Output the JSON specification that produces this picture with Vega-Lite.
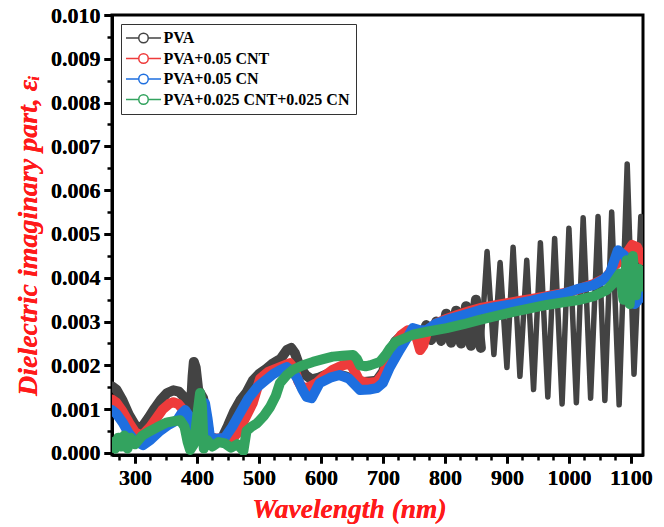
{
"$schema": "https://vega.github.io/schema/vega-lite/v6.json",
"width": 531, "height": 440,
"autosize": "none",
"padding": {"left": 112, "top": 15, "right": 21, "bottom": 72},
"background": "white",
"config": {
  "view": {"stroke": "black", "strokeWidth": 3},
  "axis": {"labelFont": "Liberation Serif", "labelFontWeight": "bold", "labelFontSize": 22, "labelColor": "black",
           "titleFont": "Liberation Serif", "titleFontWeight": "bold", "titleFontStyle": "italic", "titleColor": "#ff1a1a",
           "domainColor": "black", "domainWidth": 3, "tickColor": "black", "tickWidth": 3, "tickSize": 8, "grid": false}
},
"data": {"values": [
{"s":"PVA","x":263,"y":0.00152},{"s":"PVA","x":270,"y":0.00145},{"s":"PVA","x":280,"y":0.00120},{"s":"PVA","x":290,"y":0.00088},{"s":"PVA","x":300,"y":0.00064},{"s":"PVA","x":306,"y":0.00057},{"s":"PVA","x":313,"y":0.00062},{"s":"PVA","x":322,"y":0.00080},{"s":"PVA","x":332,"y":0.00102},{"s":"PVA","x":342,"y":0.00122},{"s":"PVA","x":352,"y":0.00137},{"s":"PVA","x":362,"y":0.00143},{"s":"PVA","x":371,"y":0.00140},{"s":"PVA","x":379,"y":0.00128},{"s":"PVA","x":385,"y":0.00108},{"s":"PVA","x":390,"y":0.00097},{"s":"PVA","x":393,"y":0.00175},{"s":"PVA","x":395,"y":0.00208},{"s":"PVA","x":398,"y":0.00195},{"s":"PVA","x":402,"y":0.00145},{"s":"PVA","x":406,"y":0.00135},{"s":"PVA","x":410,"y":0.00125},{"s":"PVA","x":415,"y":0.00085},{"s":"PVA","x":421,"y":0.00032},{"s":"PVA","x":430,"y":0.00026},{"s":"PVA","x":440,"y":0.00032},{"s":"PVA","x":450,"y":0.00062},{"s":"PVA","x":460,"y":0.00095},{"s":"PVA","x":470,"y":0.00120},{"s":"PVA","x":480,"y":0.00138},{"s":"PVA","x":490,"y":0.00165},{"s":"PVA","x":500,"y":0.00180},{"s":"PVA","x":512,"y":0.00192},{"s":"PVA","x":523,"y":0.00205},{"s":"PVA","x":535,"y":0.00215},{"s":"PVA","x":545,"y":0.00235},{"s":"PVA","x":552,"y":0.00240},{"s":"PVA","x":558,"y":0.00228},{"s":"PVA","x":565,"y":0.00200},{"s":"PVA","x":575,"y":0.00178},{"s":"PVA","x":585,"y":0.00168},{"s":"PVA","x":597,"y":0.00172},{"s":"PVA","x":610,"y":0.00180},{"s":"PVA","x":625,"y":0.00180},{"s":"PVA","x":640,"y":0.00175},{"s":"PVA","x":655,"y":0.00167},{"s":"PVA","x":670,"y":0.00162},{"s":"PVA","x":690,"y":0.00165},{"s":"PVA","x":700,"y":0.00185},{"s":"PVA","x":710,"y":0.00228},{"s":"PVA","x":720,"y":0.00255},{"s":"PVA","x":730,"y":0.00268},{"s":"PVA","x":742,"y":0.00274},{"s":"PVA","x":752,"y":0.00272},{"s":"PVA","x":762,"y":0.00262},{"s":"PVA","x":770,"y":0.00292},{"s":"PVA","x":778,"y":0.00258},{"s":"PVA","x":786,"y":0.00300},{"s":"PVA","x":794,"y":0.00256},{"s":"PVA","x":802,"y":0.00318},{"s":"PVA","x":810,"y":0.00252},{"s":"PVA","x":818,"y":0.00325},{"s":"PVA","x":826,"y":0.00250},{"s":"PVA","x":834,"y":0.00335},{"s":"PVA","x":842,"y":0.00245},{"s":"PVA","x":850,"y":0.00350},{"s":"PVA","x":858,"y":0.00240},{"s":"PVA","x":868,"y":0.00460},{"s":"PVA","x":879,"y":0.00225},{"s":"PVA","x":889,"y":0.00435},{"s":"PVA","x":900,"y":0.00195},{"s":"PVA","x":910,"y":0.00470},{"s":"PVA","x":921,"y":0.00175},{"s":"PVA","x":932,"y":0.00440},{"s":"PVA","x":943,"y":0.00145},{"s":"PVA","x":954,"y":0.00480},{"s":"PVA","x":966,"y":0.00128},{"s":"PVA","x":977,"y":0.00490},{"s":"PVA","x":989,"y":0.00112},{"s":"PVA","x":1000,"y":0.00513},{"s":"PVA","x":1012,"y":0.00115},{"s":"PVA","x":1023,"y":0.00537},{"s":"PVA","x":1035,"y":0.00125},{"s":"PVA","x":1047,"y":0.00540},{"s":"PVA","x":1058,"y":0.00120},{"s":"PVA","x":1069,"y":0.00550},{"s":"PVA","x":1081,"y":0.00110},{"s":"PVA","x":1094,"y":0.00660},{"s":"PVA","x":1105,"y":0.00180},{"s":"PVA","x":1116,"y":0.00540},{"s":"PVA","x":1119,"y":0.00450},
{"s":"PVA+0.05 CNT","x":263,"y":0.00122},{"s":"PVA+0.05 CNT","x":270,"y":0.00115},{"s":"PVA+0.05 CNT","x":280,"y":0.00095},{"s":"PVA+0.05 CNT","x":290,"y":0.00070},{"s":"PVA+0.05 CNT","x":300,"y":0.00048},{"s":"PVA+0.05 CNT","x":308,"y":0.00041},{"s":"PVA+0.05 CNT","x":315,"y":0.00045},{"s":"PVA+0.05 CNT","x":325,"y":0.00060},{"s":"PVA+0.05 CNT","x":335,"y":0.00080},{"s":"PVA+0.05 CNT","x":345,"y":0.00100},{"s":"PVA+0.05 CNT","x":355,"y":0.00112},{"s":"PVA+0.05 CNT","x":362,"y":0.00116},{"s":"PVA+0.05 CNT","x":370,"y":0.00112},{"s":"PVA+0.05 CNT","x":380,"y":0.00095},{"s":"PVA+0.05 CNT","x":390,"y":0.00080},{"s":"PVA+0.05 CNT","x":400,"y":0.00075},{"s":"PVA+0.05 CNT","x":408,"y":0.00070},{"s":"PVA+0.05 CNT","x":415,"y":0.00055},{"s":"PVA+0.05 CNT","x":421,"y":0.00037},{"s":"PVA+0.05 CNT","x":430,"y":0.00033},{"s":"PVA+0.05 CNT","x":445,"y":0.00033},{"s":"PVA+0.05 CNT","x":458,"y":0.00034},{"s":"PVA+0.05 CNT","x":468,"y":0.00050},{"s":"PVA+0.05 CNT","x":478,"y":0.00080},{"s":"PVA+0.05 CNT","x":490,"y":0.00114},{"s":"PVA+0.05 CNT","x":502,"y":0.00170},{"s":"PVA+0.05 CNT","x":515,"y":0.00185},{"s":"PVA+0.05 CNT","x":534,"y":0.00196},{"s":"PVA+0.05 CNT","x":550,"y":0.00205},{"s":"PVA+0.05 CNT","x":558,"y":0.00190},{"s":"PVA+0.05 CNT","x":563,"y":0.00165},{"s":"PVA+0.05 CNT","x":570,"y":0.00148},{"s":"PVA+0.05 CNT","x":580,"y":0.00150},{"s":"PVA+0.05 CNT","x":593,"y":0.00160},{"s":"PVA+0.05 CNT","x":605,"y":0.00175},{"s":"PVA+0.05 CNT","x":619,"y":0.00190},{"s":"PVA+0.05 CNT","x":635,"y":0.00200},{"s":"PVA+0.05 CNT","x":647,"y":0.00205},{"s":"PVA+0.05 CNT","x":655,"y":0.00185},{"s":"PVA+0.05 CNT","x":662,"y":0.00165},{"s":"PVA+0.05 CNT","x":675,"y":0.00160},{"s":"PVA+0.05 CNT","x":690,"y":0.00162},{"s":"PVA+0.05 CNT","x":700,"y":0.00180},{"s":"PVA+0.05 CNT","x":710,"y":0.00215},{"s":"PVA+0.05 CNT","x":720,"y":0.00250},{"s":"PVA+0.05 CNT","x":730,"y":0.00270},{"s":"PVA+0.05 CNT","x":740,"y":0.00280},{"s":"PVA+0.05 CNT","x":748,"y":0.00280},{"s":"PVA+0.05 CNT","x":755,"y":0.00260},{"s":"PVA+0.05 CNT","x":760,"y":0.00235},{"s":"PVA+0.05 CNT","x":765,"y":0.00245},{"s":"PVA+0.05 CNT","x":772,"y":0.00280},{"s":"PVA+0.05 CNT","x":785,"y":0.00295},{"s":"PVA+0.05 CNT","x":800,"y":0.00305},{"s":"PVA+0.05 CNT","x":820,"y":0.00315},{"s":"PVA+0.05 CNT","x":840,"y":0.00324},{"s":"PVA+0.05 CNT","x":860,"y":0.00332},{"s":"PVA+0.05 CNT","x":880,"y":0.00337},{"s":"PVA+0.05 CNT","x":900,"y":0.00342},{"s":"PVA+0.05 CNT","x":920,"y":0.00347},{"s":"PVA+0.05 CNT","x":940,"y":0.00352},{"s":"PVA+0.05 CNT","x":960,"y":0.00357},{"s":"PVA+0.05 CNT","x":980,"y":0.00362},{"s":"PVA+0.05 CNT","x":1000,"y":0.00367},{"s":"PVA+0.05 CNT","x":1020,"y":0.00376},{"s":"PVA+0.05 CNT","x":1040,"y":0.00386},{"s":"PVA+0.05 CNT","x":1060,"y":0.00400},{"s":"PVA+0.05 CNT","x":1075,"y":0.00430},{"s":"PVA+0.05 CNT","x":1085,"y":0.00440},{"s":"PVA+0.05 CNT","x":1095,"y":0.00460},{"s":"PVA+0.05 CNT","x":1102,"y":0.00475},{"s":"PVA+0.05 CNT","x":1110,"y":0.00470},{"s":"PVA+0.05 CNT","x":1119,"y":0.00440},
{"s":"PVA+0.05 CN","x":263,"y":0.00098},{"s":"PVA+0.05 CN","x":270,"y":0.00090},{"s":"PVA+0.05 CN","x":280,"y":0.00070},{"s":"PVA+0.05 CN","x":290,"y":0.00045},{"s":"PVA+0.05 CN","x":300,"y":0.00028},{"s":"PVA+0.05 CN","x":313,"y":0.00018},{"s":"PVA+0.05 CN","x":325,"y":0.00030},{"s":"PVA+0.05 CN","x":340,"y":0.00050},{"s":"PVA+0.05 CN","x":355,"y":0.00065},{"s":"PVA+0.05 CN","x":368,"y":0.00075},{"s":"PVA+0.05 CN","x":375,"y":0.00090},{"s":"PVA+0.05 CN","x":381,"y":0.00098},{"s":"PVA+0.05 CN","x":387,"y":0.00085},{"s":"PVA+0.05 CN","x":393,"y":0.00060},{"s":"PVA+0.05 CN","x":400,"y":0.00070},{"s":"PVA+0.05 CN","x":407,"y":0.00095},{"s":"PVA+0.05 CN","x":413,"y":0.00114},{"s":"PVA+0.05 CN","x":417,"y":0.00080},{"s":"PVA+0.05 CN","x":421,"y":0.00037},{"s":"PVA+0.05 CN","x":430,"y":0.00032},{"s":"PVA+0.05 CN","x":445,"y":0.00035},{"s":"PVA+0.05 CN","x":457,"y":0.00060},{"s":"PVA+0.05 CN","x":469,"y":0.00090},{"s":"PVA+0.05 CN","x":483,"y":0.00125},{"s":"PVA+0.05 CN","x":497,"y":0.00150},{"s":"PVA+0.05 CN","x":510,"y":0.00165},{"s":"PVA+0.05 CN","x":523,"y":0.00180},{"s":"PVA+0.05 CN","x":535,"y":0.00190},{"s":"PVA+0.05 CN","x":545,"y":0.00196},{"s":"PVA+0.05 CN","x":555,"y":0.00185},{"s":"PVA+0.05 CN","x":562,"y":0.00170},{"s":"PVA+0.05 CN","x":570,"y":0.00145},{"s":"PVA+0.05 CN","x":577,"y":0.00128},{"s":"PVA+0.05 CN","x":585,"y":0.00125},{"s":"PVA+0.05 CN","x":598,"y":0.00160},{"s":"PVA+0.05 CN","x":615,"y":0.00172},{"s":"PVA+0.05 CN","x":630,"y":0.00178},{"s":"PVA+0.05 CN","x":645,"y":0.00170},{"s":"PVA+0.05 CN","x":652,"y":0.00160},{"s":"PVA+0.05 CN","x":663,"y":0.00144},{"s":"PVA+0.05 CN","x":678,"y":0.00145},{"s":"PVA+0.05 CN","x":690,"y":0.00148},{"s":"PVA+0.05 CN","x":700,"y":0.00160},{"s":"PVA+0.05 CN","x":711,"y":0.00195},{"s":"PVA+0.05 CN","x":727,"y":0.00235},{"s":"PVA+0.05 CN","x":740,"y":0.00265},{"s":"PVA+0.05 CN","x":748,"y":0.00285},{"s":"PVA+0.05 CN","x":760,"y":0.00280},{"s":"PVA+0.05 CN","x":770,"y":0.00280},{"s":"PVA+0.05 CN","x":785,"y":0.00295},{"s":"PVA+0.05 CN","x":803,"y":0.00304},{"s":"PVA+0.05 CN","x":830,"y":0.00315},{"s":"PVA+0.05 CN","x":856,"y":0.00326},{"s":"PVA+0.05 CN","x":880,"y":0.00333},{"s":"PVA+0.05 CN","x":910,"y":0.00340},{"s":"PVA+0.05 CN","x":940,"y":0.00348},{"s":"PVA+0.05 CN","x":964,"y":0.00356},{"s":"PVA+0.05 CN","x":990,"y":0.00363},{"s":"PVA+0.05 CN","x":1018,"y":0.00376},{"s":"PVA+0.05 CN","x":1039,"y":0.00383},{"s":"PVA+0.05 CN","x":1055,"y":0.00395},{"s":"PVA+0.05 CN","x":1066,"y":0.00410},{"s":"PVA+0.05 CN","x":1079,"y":0.00463},{"s":"PVA+0.05 CN","x":1090,"y":0.00450},{"s":"PVA+0.05 CN","x":1098,"y":0.00420},{"s":"PVA+0.05 CN","x":1106,"y":0.00340},{"s":"PVA+0.05 CN","x":1119,"y":0.00360},
{"s":"PVA+0.025 CNT+0.025 CN","x":263,"y":0.00025},{"s":"PVA+0.025 CNT+0.025 CN","x":268,"y":0.00010},{"s":"PVA+0.025 CNT+0.025 CN","x":273,"y":0.00035},{"s":"PVA+0.025 CNT+0.025 CN","x":278,"y":0.00015},{"s":"PVA+0.025 CNT+0.025 CN","x":283,"y":0.00040},{"s":"PVA+0.025 CNT+0.025 CN","x":288,"y":0.00010},{"s":"PVA+0.025 CNT+0.025 CN","x":293,"y":0.00035},{"s":"PVA+0.025 CNT+0.025 CN","x":300,"y":0.00020},{"s":"PVA+0.025 CNT+0.025 CN","x":306,"y":0.00030},{"s":"PVA+0.025 CNT+0.025 CN","x":312,"y":0.00040},{"s":"PVA+0.025 CNT+0.025 CN","x":322,"y":0.00048},{"s":"PVA+0.025 CNT+0.025 CN","x":335,"y":0.00058},{"s":"PVA+0.025 CNT+0.025 CN","x":352,"y":0.00070},{"s":"PVA+0.025 CNT+0.025 CN","x":365,"y":0.00073},{"s":"PVA+0.025 CNT+0.025 CN","x":373,"y":0.00075},{"s":"PVA+0.025 CNT+0.025 CN","x":380,"y":0.00060},{"s":"PVA+0.025 CNT+0.025 CN","x":385,"y":0.00025},{"s":"PVA+0.025 CNT+0.025 CN","x":389,"y":0.00007},{"s":"PVA+0.025 CNT+0.025 CN","x":395,"y":0.00020},{"s":"PVA+0.025 CNT+0.025 CN","x":400,"y":0.00080},{"s":"PVA+0.025 CNT+0.025 CN","x":405,"y":0.00137},{"s":"PVA+0.025 CNT+0.025 CN","x":408,"y":0.00110},{"s":"PVA+0.025 CNT+0.025 CN","x":411,"y":0.00010},{"s":"PVA+0.025 CNT+0.025 CN","x":416,"y":0.00030},{"s":"PVA+0.025 CNT+0.025 CN","x":425,"y":0.00015},{"s":"PVA+0.025 CNT+0.025 CN","x":435,"y":0.00025},{"s":"PVA+0.025 CNT+0.025 CN","x":445,"y":0.00022},{"s":"PVA+0.025 CNT+0.025 CN","x":455,"y":0.00012},{"s":"PVA+0.025 CNT+0.025 CN","x":465,"y":0.00020},{"s":"PVA+0.025 CNT+0.025 CN","x":475,"y":0.00005},{"s":"PVA+0.025 CNT+0.025 CN","x":480,"y":0.00050},{"s":"PVA+0.025 CNT+0.025 CN","x":488,"y":0.00060},{"s":"PVA+0.025 CNT+0.025 CN","x":497,"y":0.00068},{"s":"PVA+0.025 CNT+0.025 CN","x":508,"y":0.00085},{"s":"PVA+0.025 CNT+0.025 CN","x":518,"y":0.00105},{"s":"PVA+0.025 CNT+0.025 CN","x":527,"y":0.00130},{"s":"PVA+0.025 CNT+0.025 CN","x":534,"y":0.00160},{"s":"PVA+0.025 CNT+0.025 CN","x":545,"y":0.00178},{"s":"PVA+0.025 CNT+0.025 CN","x":555,"y":0.00190},{"s":"PVA+0.025 CNT+0.025 CN","x":570,"y":0.00200},{"s":"PVA+0.025 CNT+0.025 CN","x":587,"y":0.00208},{"s":"PVA+0.025 CNT+0.025 CN","x":605,"y":0.00215},{"s":"PVA+0.025 CNT+0.025 CN","x":619,"y":0.00220},{"s":"PVA+0.025 CNT+0.025 CN","x":635,"y":0.00222},{"s":"PVA+0.025 CNT+0.025 CN","x":652,"y":0.00224},{"s":"PVA+0.025 CNT+0.025 CN","x":658,"y":0.00215},{"s":"PVA+0.025 CNT+0.025 CN","x":663,"y":0.00200},{"s":"PVA+0.025 CNT+0.025 CN","x":672,"y":0.00198},{"s":"PVA+0.025 CNT+0.025 CN","x":679,"y":0.00200},{"s":"PVA+0.025 CNT+0.025 CN","x":695,"y":0.00208},{"s":"PVA+0.025 CNT+0.025 CN","x":705,"y":0.00225},{"s":"PVA+0.025 CNT+0.025 CN","x":711,"y":0.00238},{"s":"PVA+0.025 CNT+0.025 CN","x":720,"y":0.00253},{"s":"PVA+0.025 CNT+0.025 CN","x":735,"y":0.00262},{"s":"PVA+0.025 CNT+0.025 CN","x":748,"y":0.00270},{"s":"PVA+0.025 CNT+0.025 CN","x":775,"y":0.00278},{"s":"PVA+0.025 CNT+0.025 CN","x":803,"y":0.00285},{"s":"PVA+0.025 CNT+0.025 CN","x":830,"y":0.00294},{"s":"PVA+0.025 CNT+0.025 CN","x":856,"y":0.00304},{"s":"PVA+0.025 CNT+0.025 CN","x":883,"y":0.00313},{"s":"PVA+0.025 CNT+0.025 CN","x":910,"y":0.00322},{"s":"PVA+0.025 CNT+0.025 CN","x":937,"y":0.00330},{"s":"PVA+0.025 CNT+0.025 CN","x":964,"y":0.00338},{"s":"PVA+0.025 CNT+0.025 CN","x":990,"y":0.00344},{"s":"PVA+0.025 CNT+0.025 CN","x":1018,"y":0.00350},{"s":"PVA+0.025 CNT+0.025 CN","x":1040,"y":0.00358},{"s":"PVA+0.025 CNT+0.025 CN","x":1061,"y":0.00372},{"s":"PVA+0.025 CNT+0.025 CN","x":1070,"y":0.00385},{"s":"PVA+0.025 CNT+0.025 CN","x":1082,"y":0.00410},{"s":"PVA+0.025 CNT+0.025 CN","x":1088,"y":0.00350},{"s":"PVA+0.025 CNT+0.025 CN","x":1093,"y":0.00440},{"s":"PVA+0.025 CNT+0.025 CN","x":1098,"y":0.00340},{"s":"PVA+0.025 CNT+0.025 CN","x":1103,"y":0.00450},{"s":"PVA+0.025 CNT+0.025 CN","x":1108,"y":0.00360},{"s":"PVA+0.025 CNT+0.025 CN","x":1113,"y":0.00420},{"s":"PVA+0.025 CNT+0.025 CN","x":1119,"y":0.00380}
]},
"resolve": {"axis": {"x": "independent", "y": "independent"}},
"encoding": {
  "x": {"field": "x", "type": "quantitative", "scale": {"domain": [263, 1119.5], "nice": false, "zero": false},
        "axis": {"orient": "bottom", "values": [300,400,500,600,700,800,900,1000,1100], "format": "d", "title": "Wavelength  (nm)", "titleFontSize": 27.5, "titlePadding": 7, "titleX": 237, "titleAlign": "center", "labelPadding": 4, "labelFlush": false}},
  "y": {"field": "y", "type": "quantitative", "scale": {"domain": [-0.0000457, 0.010], "nice": false, "zero": false},
        "axis": {"orient": "left", "values": [0,0.001,0.002,0.003,0.004,0.005,0.006,0.007,0.008,0.009,0.010], "format": ".3f", "title": "Dielectric imaginary part,  εᵢ", "titleFontSize": 28, "titlePadding": 8, "labelPadding": 4, "labelFlush": false}},
  "color": {"field": "s", "type": "nominal",
    "scale": {"domain": ["PVA","PVA+0.05 CNT","PVA+0.05 CN","PVA+0.025 CNT+0.025 CN"], "range": ["#434343","#ee3b3b","#1e6fdf","#33a35f"]},
    "legend": {"title": null, "orient": "none", "legendX": 9, "legendY": 9, "strokeColor": "#333333", "padding": 6,
               "labelFont": "Liberation Serif", "labelFontWeight": "bold", "labelFontSize": 16, "labelColor": "black", "labelOffset": 12, "labelLimit": 400,
               "symbolType": "M-3.5,0L-0.95,0M0.95,0L3.5,0M0.95,0A0.95,0.95,0,1,1,-0.95,0A0.95,0.95,0,1,1,0.95,0Z",
               "symbolSize": 100, "symbolOffset": 8.5, "symbolStrokeWidth": 1.5, "symbolFillColor": "white", "rowPadding": 4.5}}
},
"layer": [
  {
    "transform": [{"filter": "datum.s == 'PVA' && datum.x >= 858"}],
    "mark": {"type": "line", "strokeWidth": 5.5, "clip": true, "strokeJoin": "round", "strokeCap": "round"}
  },
  {
    "transform": [{"filter": "!(datum.s == 'PVA' && datum.x > 858)"}],
    "mark": {"type": "line", "strokeWidth": 10, "clip": true, "strokeJoin": "round", "strokeCap": "round"}
  },
  {
    "mark": {"type": "point", "opacity": 0, "size": 0},
    "encoding": {
      "x": {"field": "x", "type": "quantitative", "axis": {"orient": "bottom", "values": [275,325,350,375,425,450,475,525,550,575,625,650,675,725,750,775,825,850,875,925,950,975,1025,1050,1075], "labels": false, "domain": false, "tickSize": 5, "tickWidth": 2.5, "title": null}},
      "y": {"field": "y", "type": "quantitative", "axis": {"orient": "left", "values": [0.0005,0.0015,0.0025,0.0035,0.0045,0.0055,0.0065,0.0075,0.0085,0.0095], "labels": false, "domain": false, "tickSize": 5, "tickWidth": 2.5, "title": null}},
      "color": {"value": "black"}
    }
  }
]
}
